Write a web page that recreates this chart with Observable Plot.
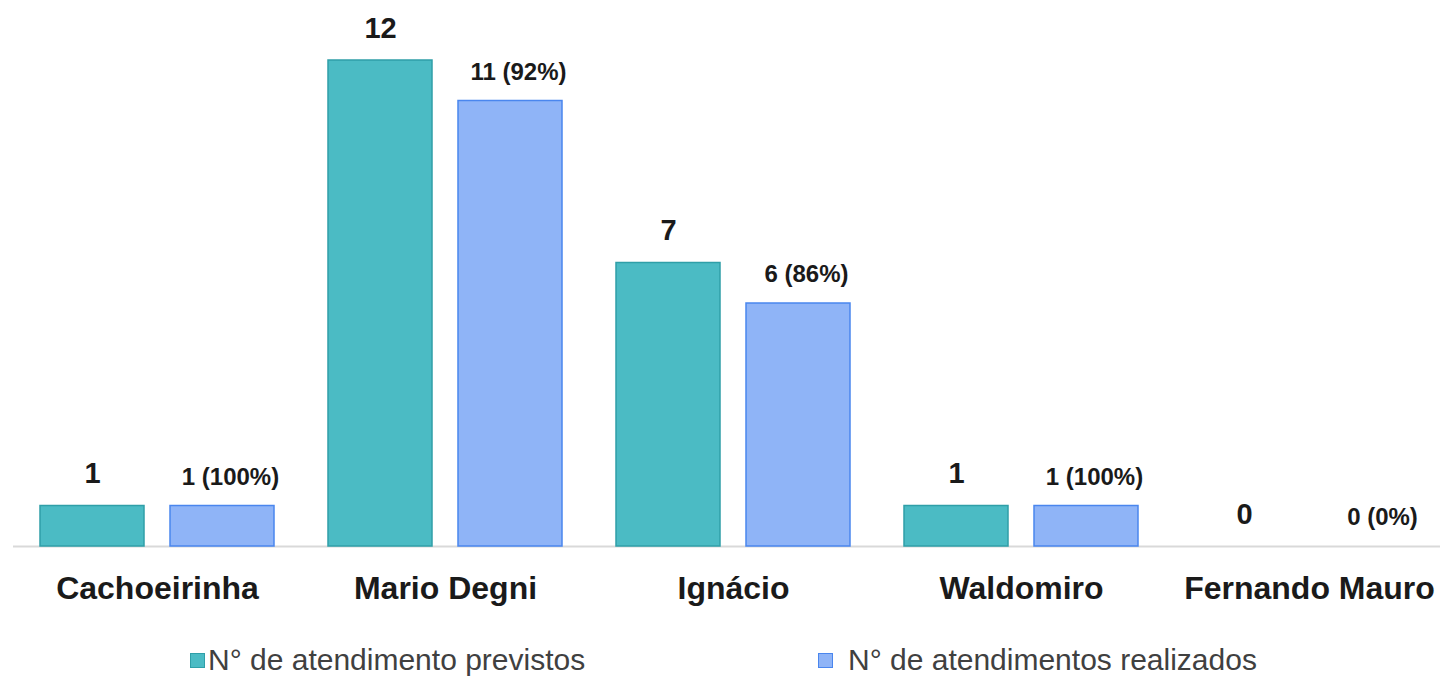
<!DOCTYPE html>
<html>
<head>
<meta charset="utf-8">
<script src="https://cdn.jsdelivr.net/npm/d3@7"></script>
<script src="https://cdn.jsdelivr.net/npm/@observablehq/plot@0.6"></script>
<style>
  html, body { margin: 0; padding: 0; background: #fff; }
  body { width: 1440px; height: 677px; overflow: hidden; font-family: "Liberation Sans", Arial, sans-serif; }
  #legend { position: relative; height: 36px; width: 1440px; font-size: 30px; color: #404040; margin-top: 2px; }
  #legend .item { position: absolute; top: 0; height: 36px; line-height: 36px; white-space: nowrap; }
  #legend .sw { display: inline-block; width: 15px; height: 15px; vertical-align: middle; margin-top: -4px; box-sizing: border-box; border: 1.5px solid; }
</style>
</head>
<body>
<div id="chart"></div>
<div id="legend"></div>
<script>
const groups = ["Cachoeirinha", "Mario Degni", "Ignácio", "Waldomiro", "Fernando Mauro"];
const previstos = [1, 12, 7, 1, 0];
const realizados = [1, 11, 6, 1, 0];
const percentuais = ["100%", "92%", "86%", "100%", "0%"];
const seriesNames = ["N° de atendimento previstos", "N° de atendimentos realizados"];
const fills = ["#4bbbc4", "#8fb4f7"];
const strokes = ["#2f9fa8", "#4a86ee"];

const rows = [];
groups.forEach((g, i) => {
  rows.push({group: g, series: seriesNames[0], value: previstos[i], label: String(previstos[i])});
  rows.push({group: g, series: seriesNames[1], value: realizados[i], label: `${realizados[i]} (${percentuais[i]})`});
});
const prevRows = rows.filter(d => d.series === seriesNames[0]);
const realRows = rows.filter(d => d.series === seriesNames[1]);

const chart = Plot.plot({
  width: 1440,
  height: 640,
  marginTop: 60,
  marginBottom: 94,
  marginLeft: 11,
  marginRight: -14,
  style: {fontFamily: "'Liberation Sans', Arial, sans-serif", background: "#fff", overflow: "visible"},
  fx: {domain: groups, paddingInner: 0, paddingOuter: 0, axis: null, label: null},
  x: {domain: seriesNames, paddingInner: 0.2, paddingOuter: 0.2, axis: null},
  y: {domain: [0, 12], axis: null},
  color: {domain: seriesNames, range: fills},
  marks: [
    Plot.ruleY([0], {stroke: "#d9d9d9", strokeWidth: 2}),
    Plot.barY(rows.filter(d => d.value > 0), {
      fx: "group", x: "series", y: "value",
      fill: "series",
      stroke: d => strokes[seriesNames.indexOf(d.series)],
      strokeWidth: 1.5
    }),
    Plot.text(prevRows, {
      fx: "group", x: "series", y: "value", text: "label",
      dy: -32, fontSize: 29, fontWeight: "bold", fill: "#1a1a1a"
    }),
    Plot.text(realRows, {
      fx: "group", x: "series", y: "value", text: "label",
      dy: -29, dx: 8, fontSize: 24, fontWeight: "bold", fill: "#1a1a1a"
    }),
    Plot.text(groups, {
      fx: d => d, text: d => d, frameAnchor: "bottom", dy: 52,
      fontSize: 32, fontWeight: "bold", fill: "#1a1a1a",
      style: "letter-spacing:1.8px"
    })
  ]
});
document.getElementById("chart").appendChild(chart);

const legend = document.getElementById("legend");
const legendLeft = [190, 818];
const legendGap = [3, 15];
seriesNames.forEach((s, i) => {
  const item = document.createElement("div");
  item.className = "item";
  item.style.left = legendLeft[i] + "px";
  const sw = document.createElement("span");
  sw.className = "sw";
  sw.style.background = fills[i];
  sw.style.borderColor = strokes[i];
  sw.style.marginRight = legendGap[i] + "px";
  item.appendChild(sw);
  item.appendChild(document.createTextNode(s));
  legend.appendChild(item);
});
</script>
</body>
</html>
